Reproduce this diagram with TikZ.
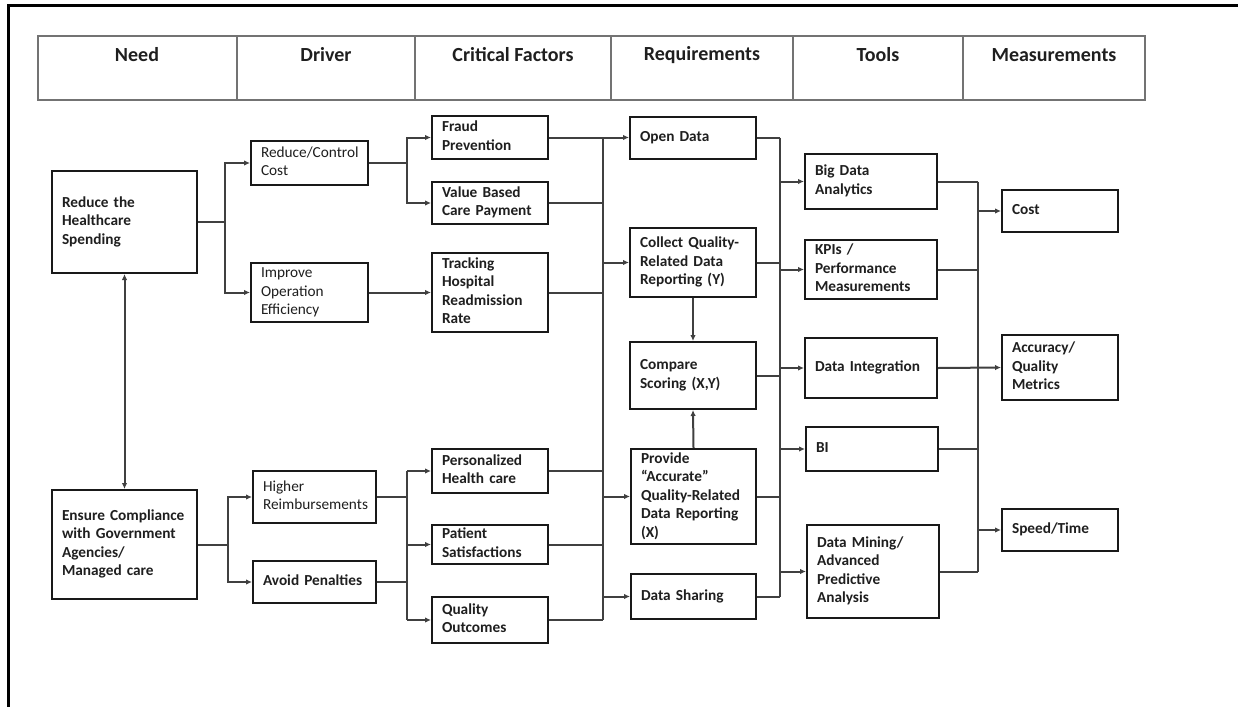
\documentclass[tikz,border=0pt]{standalone}
\usepackage{fontspec}
\setmainfont{Carlito}
\usetikzlibrary{arrows.meta}
\newcommand\lns[1]{\begin{tabular}{@{}l@{}}#1\end{tabular}}
\newcommand\bx[6][]{\pgfmathsetmacro\bxtw{#4-20}%
  \node[box,#1,minimum width=#4pt,minimum height=#5pt,text width=\bxtw pt] (#2) at (#3) {\lns{#6}};}
\begin{document}
\begin{tikzpicture}[x=1pt,y=-1pt,
  box/.style={draw=black!90,line width=2pt,inner xsep=10pt,inner ysep=0pt,align=left,
    font=\fontsize{15.3}{18.5}\selectfont\bfseries,text=black!88},
  light/.style={font=\fontsize{15.3}{18.5}\selectfont\mdseries},
  conn/.style={draw=black!75,line width=2pt},
  arr/.style={conn,-{Latex[length=6pt,width=5.5pt]}},
  both/.style={conn,{Latex[length=6pt,width=5.5pt]}-{Latex[length=6pt,width=5.5pt]}},
  head/.style={font=\fontsize{20}{23}\selectfont\bfseries,text=black!88,anchor=center}]
\useasboundingbox (0,0) rectangle (1238,707);
\fill[white] (0,0) rectangle (1238,707);
% outer frame (top and left edges)
\draw[line width=3pt] (7,5.5) -- (1238,5.5);
\draw[line width=3pt] (8.5,4) -- (8.5,707);
% column header table
\draw[black!55,line width=1.2pt] (38,36) rectangle (1145,100);
\foreach \xx in {237,415,611,793,963} \draw[black!55,line width=1.2pt] (\xx,36) -- (\xx,100);
\node[head] (hd1) at (137,55) {Need};
\node[head] (hd2) at (326,55) {Driver};
\node[head] (hd3) at (513,55) {Critical Factors};
\node[head] (hd4) at (702,55) {Requirements};
\node[head] (hd5) at (878,55) {Tools};
\node[head] (hd6) at (1054,55) {Measurements};
% need
\bx{need1}{124.5,222}{145}{102}{Reduce the\\Healthcare\\Spending}
\bx{need2}{124.5,544.5}{145}{109}{Ensure Compliance\\with Government\\Agencies/\\Managed care}
% drivers
\bx[light]{drv1}{309.5,163}{117}{44}{Reduce/Control\\Cost}
\bx[light]{drv2}{309.5,292.5}{117}{59}{Improve\\Operation\\Efficiency}
\bx[light]{drv3}{314.5,497}{123}{52}{Higher\\Reimbursements}
\bx{drv4}{314.5,582}{123}{42}{Avoid Penalties}
% critical factors
\bx{cf1}{490,137.5}{116}{43}{Fraud\\Prevention}
\bx{cf2}{490,203}{116}{42}{Value Based\\Care Payment}
\bx{cf3}{490,292.5}{116}{79}{Tracking\\Hospital\\Readmission\\Rate}
\bx{cf4}{490,471}{116}{44}{Personalized\\Health care}
\bx{cf5}{490,544.5}{116}{39}{Patient\\Satisfactions}
\bx{cf6}{490,620}{116}{46}{Quality\\Outcomes}
% requirements
\bx{rq1}{693,137.5}{126}{42}{Open Data}
\bx{rq2}{693,262.5}{126}{69}{Collect Quality-\\Related Data\\Reporting (Y)}
\bx{rq3}{693,375.5}{126}{67}{Compare\\Scoring (X,Y)}
\bx{rq4}{693.5,496.5}{125}{95}{Provide\\“Accurate”\\Quality-Related\\Data Reporting\\(X)}
\bx{rq5}{693.5,596.5}{125}{45}{Data Sharing}
% tools
\bx{t1}{871,181.5}{132}{55}{Big Data\\Analytics}
\bx{t2}{871,269.5}{132}{59}{KPIs /\\Performance\\Measurements}
\bx{t3}{871,368}{132}{60}{Data Integration}
\bx{t4}{872,449}{132}{44}{BI}
\bx{t5}{873,571.5}{132}{93}{Data Mining/\\Advanced\\Predictive\\Analysis}
% measurements
\bx{m1}{1060,211}{116}{42}{Cost}
\bx{m2}{1060,367.5}{116}{65}{Accuracy/\\Quality\\Metrics}
\bx{m3}{1060,530}{116}{42}{Speed/Time}
% bus lines
\coordinate (bA) at (225,0);
\coordinate (bB) at (228,0);
\coordinate (bC) at (407,0);
\coordinate (bE) at (603,0);
\coordinate (bF) at (780,0);
\coordinate (bG) at (978,0);
% need -> drivers
\draw[both] (need1.south) -- (need2.north);
\draw[arr] (need1.east) -- (need1.east -| bA) |- (drv1.west);
\draw[arr] (need1.east -| bA) |- (drv2.west);
\draw[arr] (need2.east) -- (need2.east -| bB) |- (drv3.west);
\draw[arr] (need2.east -| bB) |- (drv4.west);
% drivers -> critical factors
\draw[arr] (drv1.east) -- (drv1.east -| bC) |- (cf1.west);
\draw[arr] (drv1.east -| bC) |- (cf2.west);
\draw[arr] (drv2.east) -- (cf3.west);
\draw[conn] (drv3.east) -- (drv3.east -| bC);
\draw[conn] (drv4.east) -- (drv4.east -| bC);
\draw[conn] (cf4.west -| bC) -- (cf6.west -| bC);
\draw[arr] (cf4.west -| bC) -- (cf4.west);
\draw[arr] (cf5.west -| bC) -- (cf5.west);
\draw[arr] (cf6.west -| bC) -- (cf6.west);
% critical factors -> requirements
\draw[arr] (cf1.east) -- (rq1.west);
\draw[conn] (cf1.east -| bE) -- (cf6.east -| bE);
\foreach \n in {cf2,cf3,cf4,cf5,cf6} \draw[conn] (\n.east) -- (\n.east -| bE);
\foreach \n in {rq2,rq4,rq5} \draw[arr] (\n.west -| bE) -- (\n.west);
\draw[arr] (rq2.south) -- (rq3.north);
\draw[arr] (rq4.north) -- (rq3.south);
% requirements -> tools
\foreach \n in {rq1,rq2,rq3,rq4,rq5} \draw[conn] (\n.east) -- (\n.east -| bF);
\draw[conn] (rq1.east -| bF) -- (rq5.east -| bF);
\foreach \n in {t1,t2,t3,t4,t5} \draw[arr] (\n.west -| bF) -- (\n.west);
% tools -> measurements
\foreach \n in {t1,t2,t4,t5} \draw[conn] (\n.east) -- (\n.east -| bG);
\draw[conn] (t1.east -| bG) -- (t5.east -| bG);
\draw[arr] (m1.west -| bG) -- (m1.west);
\draw[arr] (m3.west -| bG) -- (m3.west);
\draw[arr] (t3.east) -- (m2.west);
\end{tikzpicture}
\end{document}
